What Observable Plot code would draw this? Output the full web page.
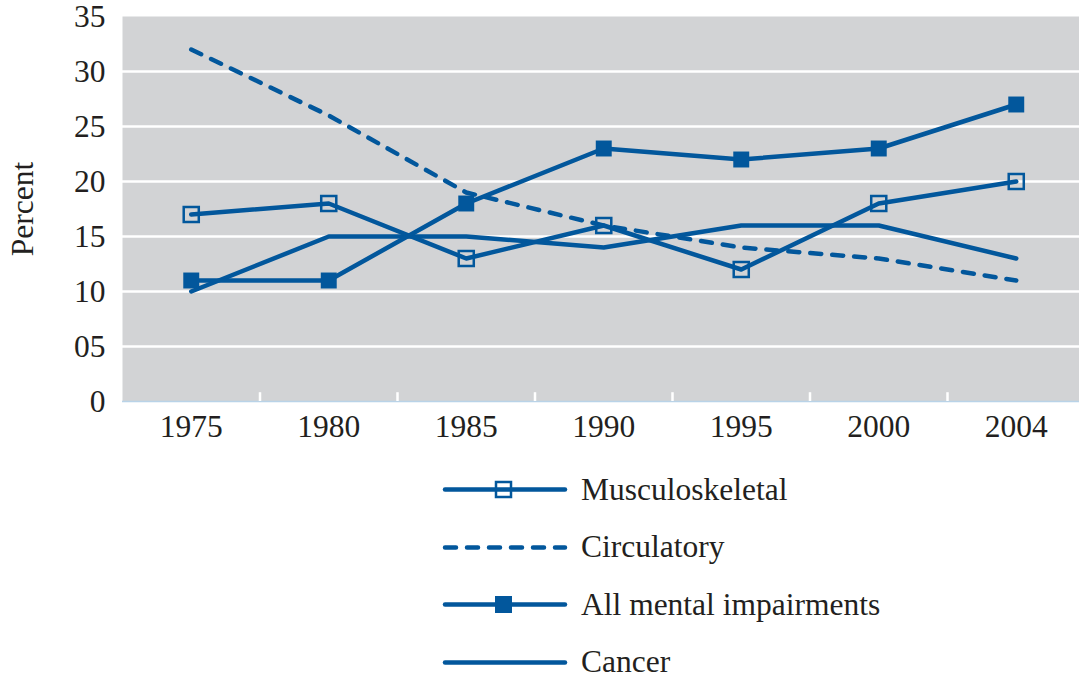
<!DOCTYPE html>
<html><head><meta charset="utf-8">
<script src="https://cdn.jsdelivr.net/npm/d3@7"></script>
<script src="https://cdn.jsdelivr.net/npm/@observablehq/plot@0.6"></script>
<style>
body{margin:0;background:#fff;font-family:"Liberation Serif","Times New Roman",serif;color:#231f20}
#legend{padding-left:441px;padding-top:11px}
.row{display:flex;align-items:center;height:57.5px;font-size:31.5px}
.row svg{margin-right:12px}
</style></head><body>
<div id="chart"></div>
<div id="legend"></div>
<script>
const years = ["1975","1980","1985","1990","1995","2000","2004"];
const musculoskeletal = [17,18,13,16,12,18,20];
const circulatory = [32,26,19,16,14,13,11];
const mental = [11,11,18,23,22,23,27];
const cancer = [10,15,15,14,16,16,13];
const seriesNames = ["Musculoskeletal","Circulatory","All mental impairments","Cancer"];
const yTicks = [0,5,10,15,20,25,30,35];

const blue = "#02579c";
const toRows = (vals) => years.map((y,i)=>({year:y, value:vals[i]}));
const mus = toRows(musculoskeletal), circ = toRows(circulatory), men = toRows(mental), can = toRows(cancer);

const mL = 122, mR = -5.5, W = 1079;
const bw = (W-mL-mR)/years.length;
const chart = Plot.plot({
  width:W, height:450,
  marginLeft:mL, marginRight:mR, marginTop:16, marginBottom:49,
  style:{fontFamily:"'Liberation Serif', 'Times New Roman', serif", fontSize:"31.5px", color:"#231f20", background:"white", overflow:"hidden"},
  x:{type:"band", domain:years, padding:0, round:false},
  y:{domain:[0,35]},
  marks:[
    Plot.frame({fill:"#d2d3d5", stroke:null}),
    Plot.ruleY(yTicks.filter(d=>d>0 && d<35), {stroke:"white", strokeWidth:2.5}),
    Plot.ruleY([0], {stroke:"#b9d3e8", strokeWidth:1.5}),
    Plot.ruleX(years.slice(0,-1), {x:d=>d, dx:bw/2, y1:0, y2:0.8, stroke:"white", strokeWidth:2.5}),
    Plot.axisY({ticks:yTicks, tickSize:0, tickPadding:17, tickFormat:d=>d===0?"0":String(d).padStart(2,"0"), label:"Percent", labelAnchor:"center", labelArrow:"none", labelOffset:112, fontSize:31.5, fill:"#231f20"}),
    Plot.axisX({tickSize:0, tickPadding:13, label:null, fontSize:31.5, fill:"#231f20"}),
    Plot.line(circ, {x:"year", y:"value", stroke:blue, strokeWidth:4.5, strokeDasharray:"11,11", strokeLinecap:"round"}),
    Plot.line(can, {x:"year", y:"value", stroke:blue, strokeWidth:4.5, strokeLinecap:"round"}),
    Plot.line(mus, {x:"year", y:"value", stroke:blue, strokeWidth:4.5, strokeLinecap:"round"}),
    Plot.line(men, {x:"year", y:"value", stroke:blue, strokeWidth:4.5, strokeLinecap:"round"}),
    Plot.dot(mus, {x:"year", y:"value", symbol:"square", r:8.5, stroke:blue, strokeWidth:2.5, fill:"none"}),
    Plot.dot(men, {x:"year", y:"value", symbol:"square", r:9, fill:blue, stroke:null})
  ]
});
document.getElementById("chart").append(chart);

const styles = [
  {dash:null, marker:"open"},
  {dash:"11,11", marker:null},
  {dash:null, marker:"filled"},
  {dash:null, marker:null}
];
const leg = document.getElementById("legend");
seriesNames.forEach((name,i)=>{
  const s = styles[i];
  const row = document.createElement("div");
  row.className="row";
  let m = "";
  if (s.marker==="open") m = `<rect x="55" y="5" width="15" height="15" fill="none" stroke="${blue}" stroke-width="2.5"/>`;
  if (s.marker==="filled") m = `<rect x="54" y="4" width="17" height="17" fill="${blue}"/>`;
  row.innerHTML = `<svg width="128" height="25"><line x1="4" x2="124" y1="12.5" y2="12.5" stroke="${blue}" stroke-width="4.5" stroke-linecap="round" ${s.dash?`stroke-dasharray="${s.dash}"`:""}/>${m}</svg><span>${name}</span>`;
  leg.append(row);
});
</script>
</body></html>
